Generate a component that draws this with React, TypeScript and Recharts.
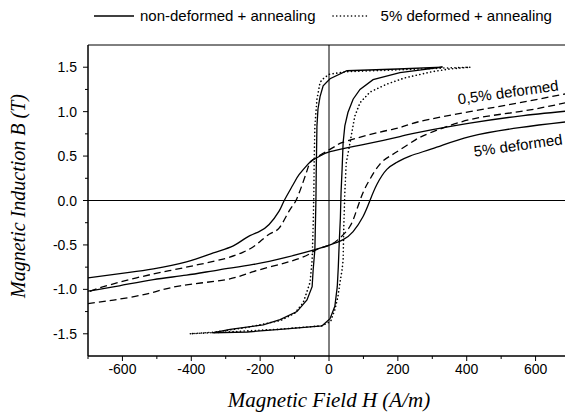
import React from "react";
import { LineChart, Line, XAxis, YAxis, ReferenceLine, ReferenceArea } from "recharts";

// non-deformed + annealing (square loop, solid)
const annealDescH = [330, 200, 52, 3, -17, -26, -32, -35, -37, -38, -41, -46, -49, -64, -93, -142, -191, -287, -339];
const annealDescB = [1.5, 1.48, 1.46, 1.37, 1.29, 1.17, 1.03, 0.84, 0.35, 0.0, -0.55, -0.78, -0.97, -1.12, -1.25, -1.34, -1.4, -1.45, -1.49];
const annealAscH = [-339, -238, -142, -20, 3, 17, 24, 27, 30, 33, 35, 38, 41, 46, 55, 70, 90, 128, 206, 330];
const annealAscB = [-1.49, -1.48, -1.45, -1.41, -1.33, -1.19, -0.97, -0.75, -0.45, -0.2, 0.09, 0.35, 0.65, 0.84, 0.99, 1.14, 1.25, 1.36, 1.44, 1.5];

// 5% deformed + annealing (square loop, dotted)
const def5AnnealDescH = [409, 330, 200, 50, 0, -17, -26, -35, -41, -43, -44, -46, -49, -55, -75, -100, -140, -240, -330, -405];
const def5AnnealDescB = [1.5, 1.49, 1.47, 1.45, 1.42, 1.37, 1.33, 1.14, 0.84, 0.46, 0.09, -0.29, -0.67, -0.92, -1.15, -1.27, -1.35, -1.43, -1.48, -1.5];
const def5AnnealAscH = [-405, -300, -150, -20, 5, 9, 17, 26, 32, 38, 41, 43, 46, 50, 61, 75, 90, 119, 168, 220, 300, 350, 409];
const def5AnnealAscB = [-1.5, -1.48, -1.45, -1.41, -1.36, -1.31, -1.23, -1.08, -0.92, -0.78, -0.67, -0.29, 0.09, 0.42, 0.65, 0.95, 1.1, 1.22, 1.31, 1.38, 1.45, 1.48, 1.5];

// 0,5% deformed (sheared loop, dashed)
const def05DescH = [700, 553, 409, 264, 206, 148, 52, 26, 0, -46, -61, -75, -96, -116, -145, -174, -212, -249, -299, -377, -464, -559, -655, -700];
const def05DescB = [1.21, 1.1, 1.0, 0.89, 0.82, 0.77, 0.67, 0.63, 0.57, 0.46, 0.37, 0.21, 0.0, -0.12, -0.31, -0.38, -0.5, -0.58, -0.65, -0.72, -0.79, -0.87, -0.97, -1.03];
const def05AscH = [-700, -626, -528, -432, -299, -220, -125, -61, -35, 3, 32, 61, 81, 99, 119, 148, 177, 206, 250, 293, 409, 553, 700];
const def05AscB = [-1.16, -1.12, -1.05, -0.96, -0.89, -0.8, -0.7, -0.61, -0.55, -0.5, -0.42, -0.29, -0.1, 0.09, 0.24, 0.41, 0.5, 0.57, 0.68, 0.76, 0.91, 1.0, 1.11];

// 5% deformed (sheared loop, solid)
const def5DescH = [700, 553, 409, 264, 206, 99, 3, -26, -46, -61, -87, -104, -130, -145, -174, -203, -241, -278, -336, -414, -510, -580, -700];
const def5DescB = [1.01, 0.95, 0.87, 0.77, 0.72, 0.63, 0.55, 0.5, 0.46, 0.41, 0.29, 0.18, 0.0, -0.12, -0.27, -0.35, -0.42, -0.51, -0.59, -0.69, -0.77, -0.81, -0.87];
const def5AscH = [-700, -609, -510, -414, -319, -220, -125, -38, 3, 41, 70, 99, 119, 139, 168, 197, 235, 313, 409, 553, 700];
const def5AscB = [-1.02, -0.96, -0.89, -0.84, -0.78, -0.72, -0.64, -0.55, -0.5, -0.44, -0.35, -0.18, 0.0, 0.18, 0.35, 0.43, 0.5, 0.6, 0.72, 0.82, 0.89];

const xTicks = [-700, -600, -500, -400, -300, -200, -100, 0, 100, 200, 300, 400, 500, 600, 700];
const yTicks = [-1.5, -1.25, -1.0, -0.75, -0.5, -0.25, 0, 0.25, 0.5, 0.75, 1.0, 1.25, 1.5];

const sans = "'Liberation Sans', Arial, sans-serif";
const serif = "'Liberation Serif', 'Times New Roman', serif";

const pts = (hs: number[], bs: number[]) => hs.map((h, i) => ({ h, b: bs[i] }));

const annealLoop = pts(annealDescH, annealDescB).concat(pts(annealAscH, annealAscB));
const def5AnnealLoop = pts(def5AnnealDescH, def5AnnealDescB).concat(pts(def5AnnealAscH, def5AnnealAscB));

function XTick(props: any) {
  const { x, y, payload } = props;
  const axisY = y - 8;
  const major = payload.value % 200 === 0;
  return (
    <g>
      <line x1={x} x2={x} y1={axisY} y2={axisY + (major ? 5 : 3)} stroke="#000" />
      {major && (
        <text x={x} y={axisY + 18} textAnchor="middle" fontSize={14} fontFamily={sans} fill="#000">
          {payload.value}
        </text>
      )}
    </g>
  );
}

function YTick(props: any) {
  const { x, y, payload } = props;
  const axisX = x + 8;
  const v = payload.value;
  const major = Math.abs(v * 2 - Math.round(v * 2)) < 1e-6;
  return (
    <g>
      <line x1={axisX} x2={axisX - (major ? 5 : 3)} y1={y} y2={y} stroke="#000" />
      {major && (
        <text x={axisX - 11} y={y + 5} textAnchor="end" fontSize={14} fontFamily={sans} fill="#000">
          {v.toFixed(1)}
        </text>
      )}
    </g>
  );
}

export default function App() {
  const common = { dataKey: "b", stroke: "#000", dot: false, isAnimationActive: false } as const;
  return (
    <div style={{ position: "relative", width: 565, height: 412 }}>
      <LineChart width={565} height={412} margin={{ top: 37, right: 3, left: 20, bottom: 34 }}>
        <XAxis
          type="number"
          dataKey="h"
          domain={[-700, 700]}
          ticks={xTicks}
          interval={0}
          tick={<XTick />}
          tickLine={false}
          tickSize={6}
          tickMargin={2}
          height={30}
          axisLine={{ stroke: "#000" }}
          allowDataOverflow
        />
        <YAxis
          type="number"
          dataKey="b"
          domain={[-1.75, 1.75]}
          ticks={yTicks}
          interval={0}
          tick={<YTick />}
          tickLine={false}
          tickSize={6}
          tickMargin={2}
          width={60}
          axisLine={{ stroke: "#000" }}
          allowDataOverflow
        />
        <ReferenceArea x1={-700} x2={700} y1={-1.75} y2={1.75} fill="none" stroke="#000" strokeWidth={1} />
        <ReferenceLine x={0} stroke="#000" strokeWidth={1} />
        <ReferenceLine y={0} stroke="#000" strokeWidth={1} />
        <Line {...common} data={pts(def5DescH, def5DescB)} type="natural" strokeWidth={1.3} />
        <Line {...common} data={pts(def5AscH, def5AscB)} type="natural" strokeWidth={1.3} />
        <Line {...common} data={pts(def05DescH, def05DescB)} type="natural" strokeWidth={1.3} strokeDasharray="7 4" />
        <Line {...common} data={pts(def05AscH, def05AscB)} type="natural" strokeWidth={1.3} strokeDasharray="7 4" />
        <Line {...common} data={annealLoop} type="linear" strokeWidth={1.3} />
        <Line {...common} data={def5AnnealLoop} type="linear" strokeWidth={1.6} strokeDasharray="0.1 3.6" strokeLinecap="round" />
      </LineChart>

      <div style={{ position: "absolute", left: 86, top: -1, display: "flex", alignItems: "center", fontFamily: sans, fontSize: 15, whiteSpace: "nowrap" }}>
        <svg width={42} height={10}>
          <line x1={0} x2={40} y1={5} y2={5} stroke="#000" strokeWidth={1.3} />
        </svg>
        <span style={{ marginLeft: 4 }}>non-deformed + annealing</span>
        <svg width={40} height={10} style={{ marginLeft: 15 }}>
          <line x1={2} x2={38} y1={5} y2={5} stroke="#000" strokeWidth={1.6} strokeDasharray="0.1 3.6" strokeLinecap="round" />
        </svg>
        <span style={{ marginLeft: 10 }}>5% deformed + annealing</span>
      </div>

      <div style={{ position: "absolute", left: 500, top: 84, transform: "translate(-50%, -50%) rotate(-8deg)", fontFamily: sans, fontSize: 15, whiteSpace: "nowrap" }}>
        0,5% deformed
      </div>
      <div style={{ position: "absolute", left: 510, top: 137, transform: "translate(-50%, -50%) rotate(-8deg)", fontFamily: sans, fontSize: 15, whiteSpace: "nowrap" }}>
        5% deformed
      </div>

      <div style={{ position: "absolute", left: 10, top: 188, transform: "translate(-50%, -50%) rotate(-90deg)", fontFamily: serif, fontStyle: "italic", fontSize: 20, whiteSpace: "nowrap" }}>
        Magnetic Induction B (T)
      </div>
      <div style={{ position: "absolute", left: 321, top: 392, transform: "translate(-50%, -50%)", fontFamily: serif, fontStyle: "italic", fontSize: 21, whiteSpace: "nowrap" }}>
        Magnetic Field H (A/m)
      </div>
    </div>
  );
}
